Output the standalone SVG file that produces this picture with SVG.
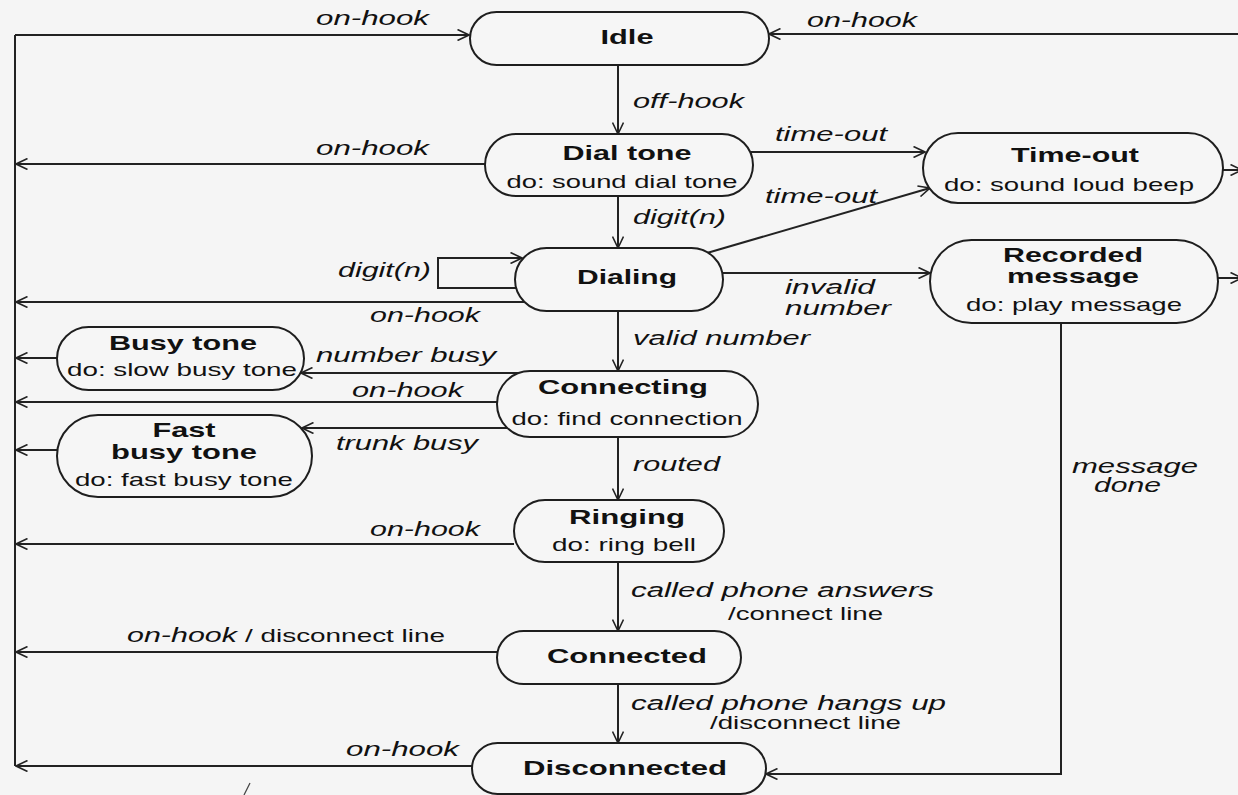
<svg xmlns="http://www.w3.org/2000/svg" width="1238" height="795" viewBox="0 0 1238 795">
  <defs>
    <marker id="arr" viewBox="0 0 13 12" refX="12" refY="6" markerWidth="13" markerHeight="12" markerUnits="userSpaceOnUse" orient="auto">
      <path d="M0.5,0.5 L12,6 L0.5,11.5" fill="none" stroke="#222" stroke-width="1.6"/>
    </marker>
    <style>
      .node { fill: #f6f6f6; stroke: #1e1e1e; stroke-width: 2; }
      .edge { fill: none; stroke: #222; stroke-width: 2; }
      .arr { marker-end: url(#arr); }
      text { font-family: "Liberation Sans", Arial, sans-serif; fill: #111; }
      .title { font-size: 21px; font-weight: bold; text-anchor: middle; }
      .act { font-size: 19px; text-anchor: middle; }
      .lbl { font-size: 20px; font-style: italic; }
      .plain { font-size: 19px; }
    </style>
  </defs>

  <rect x="0" y="0" width="1238" height="795" fill="#f5f5f5"/>

  <!-- transitions -->
  <g id="connectors">
    <!-- shared on-hook return bus on the left -->
    <path class="edge" d="M15,766 L15,35"/>
    <path class="edge arr" d="M15,35 L469,35"/>
    <path class="edge arr" d="M1238,34 L769,34"/>
    <path class="edge arr" d="M618,65 L618,134"/>
    <path class="edge arr" d="M486,164 L16,164"/>
    <path class="edge arr" d="M750,152 L925,152"/>
    <path class="edge arr" d="M618,196 L618,248"/>
    <path class="edge arr" d="M707,253 L930,188"/>
    <path class="edge arr" d="M518,288 L438,288 L438,258 L522,258"/>
    <path class="edge arr" d="M524,302 L16,302"/>
    <path class="edge arr" d="M723,273 L930,273"/>
    <path class="edge arr" d="M618,311 L618,371"/>
    <path class="edge arr" d="M522,373 L301,373"/>
    <path class="edge arr" d="M57,358 L16,358"/>
    <path class="edge arr" d="M497,402 L16,402"/>
    <path class="edge arr" d="M512,428 L302,428"/>
    <path class="edge arr" d="M57,450 L16,450"/>
    <path class="edge arr" d="M618,437 L618,500"/>
    <path class="edge arr" d="M514,544 L16,544"/>
    <path class="edge arr" d="M618,562 L618,631"/>
    <path class="edge arr" d="M497,652 L16,652"/>
    <path class="edge arr" d="M618,684 L618,743"/>
    <path class="edge arr" d="M472,766 L16,766"/>
    <path class="edge arr" d="M1061,323 L1061,774 L766,774"/>
    <path class="edge arr" d="M1223,170 L1242,170"/>
    <path class="edge arr" d="M1218,278 L1242,278"/>

    <text class="lbl" x="316" y="25" textLength="113" lengthAdjust="spacingAndGlyphs">on-hook</text>
    <text class="lbl" x="807" y="27" textLength="110" lengthAdjust="spacingAndGlyphs">on-hook</text>
    <text class="lbl" x="633" y="108" textLength="111" lengthAdjust="spacingAndGlyphs">off-hook</text>
    <text class="lbl" x="316" y="155" textLength="113" lengthAdjust="spacingAndGlyphs">on-hook</text>
    <text class="lbl" x="775" y="141" textLength="112" lengthAdjust="spacingAndGlyphs">time-out</text>
    <text class="lbl" x="765" y="203" textLength="112" lengthAdjust="spacingAndGlyphs">time-out</text>
    <text class="lbl" x="633" y="224" textLength="93" lengthAdjust="spacingAndGlyphs">digit(n)</text>
    <text class="lbl" x="338" y="277" textLength="93" lengthAdjust="spacingAndGlyphs">digit(n)</text>
    <text class="lbl" x="785" y="294" textLength="90" lengthAdjust="spacingAndGlyphs">invalid</text>
    <text class="lbl" x="785" y="315" textLength="106" lengthAdjust="spacingAndGlyphs">number</text>
    <text class="lbl" x="370" y="322" textLength="110" lengthAdjust="spacingAndGlyphs">on-hook</text>
    <text class="lbl" x="633" y="345" textLength="177" lengthAdjust="spacingAndGlyphs">valid number</text>
    <text class="lbl" x="316" y="362" textLength="180" lengthAdjust="spacingAndGlyphs">number busy</text>
    <text class="lbl" x="352" y="397" textLength="111" lengthAdjust="spacingAndGlyphs">on-hook</text>
    <text class="lbl" x="336" y="450" textLength="142" lengthAdjust="spacingAndGlyphs">trunk busy</text>
    <text class="lbl" x="633" y="471" textLength="87" lengthAdjust="spacingAndGlyphs">routed</text>
    <text class="lbl" x="1072" y="473" textLength="126" lengthAdjust="spacingAndGlyphs">message</text>
    <text class="lbl" x="1094" y="492" textLength="67" lengthAdjust="spacingAndGlyphs">done</text>
    <text class="lbl" x="370" y="536" textLength="110" lengthAdjust="spacingAndGlyphs">on-hook</text>
    <text class="lbl" x="631" y="597" textLength="303" lengthAdjust="spacingAndGlyphs">called phone answers</text>
    <text class="plain" x="728" y="620" textLength="155" lengthAdjust="spacingAndGlyphs">/connect line</text>
    <text class="lbl" x="127" y="642" textLength="110" lengthAdjust="spacingAndGlyphs">on-hook</text>
    <text class="plain" x="245" y="642" textLength="200" lengthAdjust="spacingAndGlyphs">/ disconnect line</text>
    <text class="lbl" x="631" y="710" textLength="315" lengthAdjust="spacingAndGlyphs">called phone hangs up</text>
    <text class="plain" x="710" y="729" textLength="191" lengthAdjust="spacingAndGlyphs">/disconnect line</text>
    <text class="lbl" x="346" y="756" textLength="113" lengthAdjust="spacingAndGlyphs">on-hook</text>
  </g>

  <!-- states -->
  <g id="idle">
    <rect class="node" x="470" y="12" width="299" height="53" rx="26.5"/>
    <text class="title" x="627" y="44" textLength="53" lengthAdjust="spacingAndGlyphs">Idle</text>
  </g>
  <g id="dial-tone">
    <rect class="node" x="485" y="134" width="268" height="62" rx="31"/>
    <text class="title" x="627" y="160" textLength="129" lengthAdjust="spacingAndGlyphs">Dial tone</text>
    <text class="act" x="622" y="188" textLength="231" lengthAdjust="spacingAndGlyphs">do: sound dial tone</text>
  </g>
  <g id="time-out">
    <rect class="node" x="923" y="133" width="300" height="70" rx="35"/>
    <text class="title" x="1075" y="162" textLength="128" lengthAdjust="spacingAndGlyphs">Time-out</text>
    <text class="act" x="1069" y="191" textLength="250" lengthAdjust="spacingAndGlyphs">do: sound loud beep</text>
  </g>
  <g id="dialing">
    <rect class="node" x="515" y="248" width="208" height="63" rx="31.5"/>
    <text class="title" x="627" y="284" textLength="100" lengthAdjust="spacingAndGlyphs">Dialing</text>
  </g>
  <g id="recorded-message">
    <rect class="node" x="930" y="240" width="288" height="83" rx="41.5"/>
    <text class="title" x="1073" y="262" textLength="140" lengthAdjust="spacingAndGlyphs">Recorded</text>
    <text class="title" x="1073" y="283" textLength="132" lengthAdjust="spacingAndGlyphs">message</text>
    <text class="act" x="1074" y="311" textLength="216" lengthAdjust="spacingAndGlyphs">do: play message</text>
  </g>
  <g id="busy-tone">
    <rect class="node" x="57" y="327" width="247" height="63" rx="31.5"/>
    <text class="title" x="183" y="350" textLength="148" lengthAdjust="spacingAndGlyphs">Busy tone</text>
    <text class="act" x="182" y="376" textLength="230" lengthAdjust="spacingAndGlyphs">do: slow busy tone</text>
  </g>
  <g id="connecting">
    <rect class="node" x="497" y="371" width="261" height="66" rx="33"/>
    <text class="title" x="623" y="394" textLength="170" lengthAdjust="spacingAndGlyphs">Connecting</text>
    <text class="act" x="627" y="425" textLength="231" lengthAdjust="spacingAndGlyphs">do: find connection</text>
  </g>
  <g id="fast-busy-tone">
    <rect class="node" x="57" y="415" width="255" height="82" rx="41"/>
    <text class="title" x="184" y="437" textLength="63" lengthAdjust="spacingAndGlyphs">Fast</text>
    <text class="title" x="184" y="459" textLength="146" lengthAdjust="spacingAndGlyphs">busy tone</text>
    <text class="act" x="184" y="486" textLength="218" lengthAdjust="spacingAndGlyphs">do: fast busy tone</text>
  </g>
  <g id="ringing">
    <rect class="node" x="514" y="500" width="210" height="62" rx="31"/>
    <text class="title" x="627" y="524" textLength="116" lengthAdjust="spacingAndGlyphs">Ringing</text>
    <text class="act" x="624" y="551" textLength="144" lengthAdjust="spacingAndGlyphs">do: ring bell</text>
  </g>
  <g id="connected">
    <rect class="node" x="497" y="631" width="244" height="53" rx="26.5"/>
    <text class="title" x="627" y="663" textLength="160" lengthAdjust="spacingAndGlyphs">Connected</text>
  </g>
  <g id="disconnected">
    <rect class="node" x="472" y="743" width="294" height="51" rx="25.5"/>
    <text class="title" x="625" y="775" textLength="204" lengthAdjust="spacingAndGlyphs">Disconnected</text>
  </g>

  <!-- small pen stroke near the bottom edge -->
  <path d="M244,795 L250,783" fill="none" stroke="#444" stroke-width="1.2"/>
</svg>
